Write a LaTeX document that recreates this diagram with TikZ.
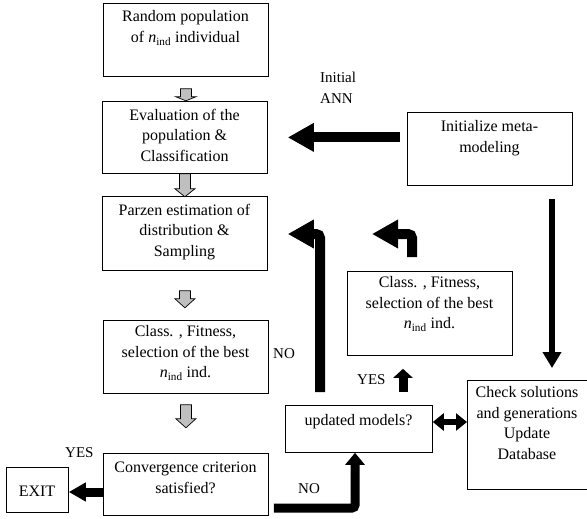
\documentclass[tikz,border=0pt]{standalone}
\usepackage{fontspec}
\setmainfont{Liberation Serif}
\usetikzlibrary{arrows.meta,calc}
\definecolor{garrfill}{HTML}{BFBFBF}
\newcommand{\nind}{\textit{n}\textsubscript{ind}}
\begin{document}
\begin{tikzpicture}[x=1pt,y=-1pt,
  box/.style={draw, line width=0.8pt, anchor=north west, inner sep=0pt},
  txt/.style={align=center, font=\fontsize{16}{20.5}\selectfont, inner sep=0pt},
  lbl/.style={font=\fontsize{15}{21}\selectfont, inner sep=0pt},
  bigarrow/.style={line width=10pt, -{Triangle[length=26pt,width=27pt]}},
  thinarrow/.style={line width=5.5pt, -{Triangle[length=16pt,width=18pt]}},
  midarrow/.style={line width=9pt, -{Triangle[length=12pt,width=19pt]}},
  smallarrow/.style={line width=9pt, -{Triangle[length=9pt,width=19pt]}},
  pics/garr/.style 2 args={code={
    \draw[fill=garrfill, line width=0.7pt, line join=miter]
      (-5.5,0) -- (5.5,0) -- (5.5,#1) -- (10,#1) -- (0,{#1+#2}) -- (-10,#1) -- (-5.5,#1) -- cycle;}}
]
\useasboundingbox (0,0) rectangle (587,519);

% boxes
\node[box, minimum width=165pt, minimum height=73pt] (b1) at (103,3) {};
\node[box, minimum width=165pt, minimum height=72pt] (b2) at (102,101) {};
\node[box, minimum width=165pt, minimum height=74pt] (b3) at (102,196) {};
\node[box, minimum width=165pt, minimum height=73pt] (b4) at (103,320) {};
\node[box, minimum width=165pt, minimum height=62pt] (b5) at (103,453) {};
\node[box, minimum width=62pt, minimum height=45pt] (exit) at (6,467) {};
\node[box, minimum width=165pt, minimum height=73pt] (meta) at (407,112) {};
\node[box, minimum width=165pt, minimum height=84pt] (rcls) at (347,271) {};
\node[box, minimum width=147pt, minimum height=47pt] (upd) at (285,405) {};
\node[box, minimum width=120pt, minimum height=109pt] (chk) at (467,380) {};

% texts
\node[txt] (t1) at (185.5,28) {Random population\\of \nind{} individual};
\node[txt] (t2) at (184.5,135) {Evaluation of the\\population \&\\Classification};
\node[txt] (t3) at (184.5,232) {Parzen estimation of\\distribution \&\\Sampling};
\node[txt] (t4) at (185.5,353) {Class. , Fitness,\\selection of the best\\\nind{} ind.};
\node[txt] (t5) at (185.5,478) {Convergence criterion\\satisfied?};
\node[txt] (t6) at (37,491) {EXIT};
\node[txt] (t7) at (489.5,138) {Initialize meta-\\modeling};
\node[txt] (t8) at (429.5,304) {Class. , Fitness,\\selection of the best\\\nind{} ind.};
\node[txt] (t9) at (358.5,422) {updated models?};
\node[txt] (t10) at (527,423) {Check solutions\\and generations\\Update\\Database};

% labels
\node[lbl, align=left, anchor=west] (ann) at (320,88) {Initial\\ANN};
\node[lbl, anchor=west] (no1) at (273,354) {NO};
\node[lbl, anchor=west] (yes1) at (357,380) {YES};
\node[lbl, anchor=west] (no2) at (298,489) {NO};
\node[lbl, anchor=west] (yes2) at (65,453) {YES};

% grey block arrows
\pic at ($(b1.south)+(0,12)$) {garr={8}{4}};
\pic at ($(b2.south)+(0,0)$) {garr={15}{8}};
\pic at ($(b3.south)+(0,20)$) {garr={8}{9}};
\pic at ($(b4.south)+(0,11)$) {garr={14}{9}};

% coordinates for connector routes
\coordinate (vx) at (552,0);
\coordinate (bendL) at (320,234);
\coordinate (bendR) at (412,234);
\coordinate (tipR) at (372,234);
\coordinate (ux) at (403,0);
\coordinate (nox) at (355,508);
\coordinate (ey) at (0,492);

% black connectors
\draw[bigarrow, shorten <=7pt, shorten >=20pt] (meta.west |- b2.east) -- (b2.east);
\draw[thinarrow, shorten <=13pt, shorten >=12pt] (meta.south -| vx) -- (chk.north -| vx);
\draw[bigarrow, rounded corners=4pt, shorten <=13pt, shorten >=20pt]
  (upd.north -| bendL) -- (bendL) -- (b3.east |- bendL);
\draw[bigarrow, rounded corners=4pt, shorten <=14pt] (rcls.north -| bendR) -- (bendR) -- (tipR);
\draw[smallarrow, shorten <=13pt, shorten >=13pt] (upd.north -| ux) -- (rcls.south -| ux);
\draw[midarrow, rounded corners=3pt, shorten <=5pt] (b5.east |- nox) -- (nox) -- (upd.south -| nox);
\draw[line width=6pt, {Triangle[length=11pt,width=17pt]}-{Triangle[length=11pt,width=17pt]}]
  (upd.east |- t9) -- (chk.west |- t9);
\draw[line width=9pt, -{Triangle[length=17pt,width=18pt]}] (b5.west |- ey) -- (exit.east |- ey);
\end{tikzpicture}
\end{document}
